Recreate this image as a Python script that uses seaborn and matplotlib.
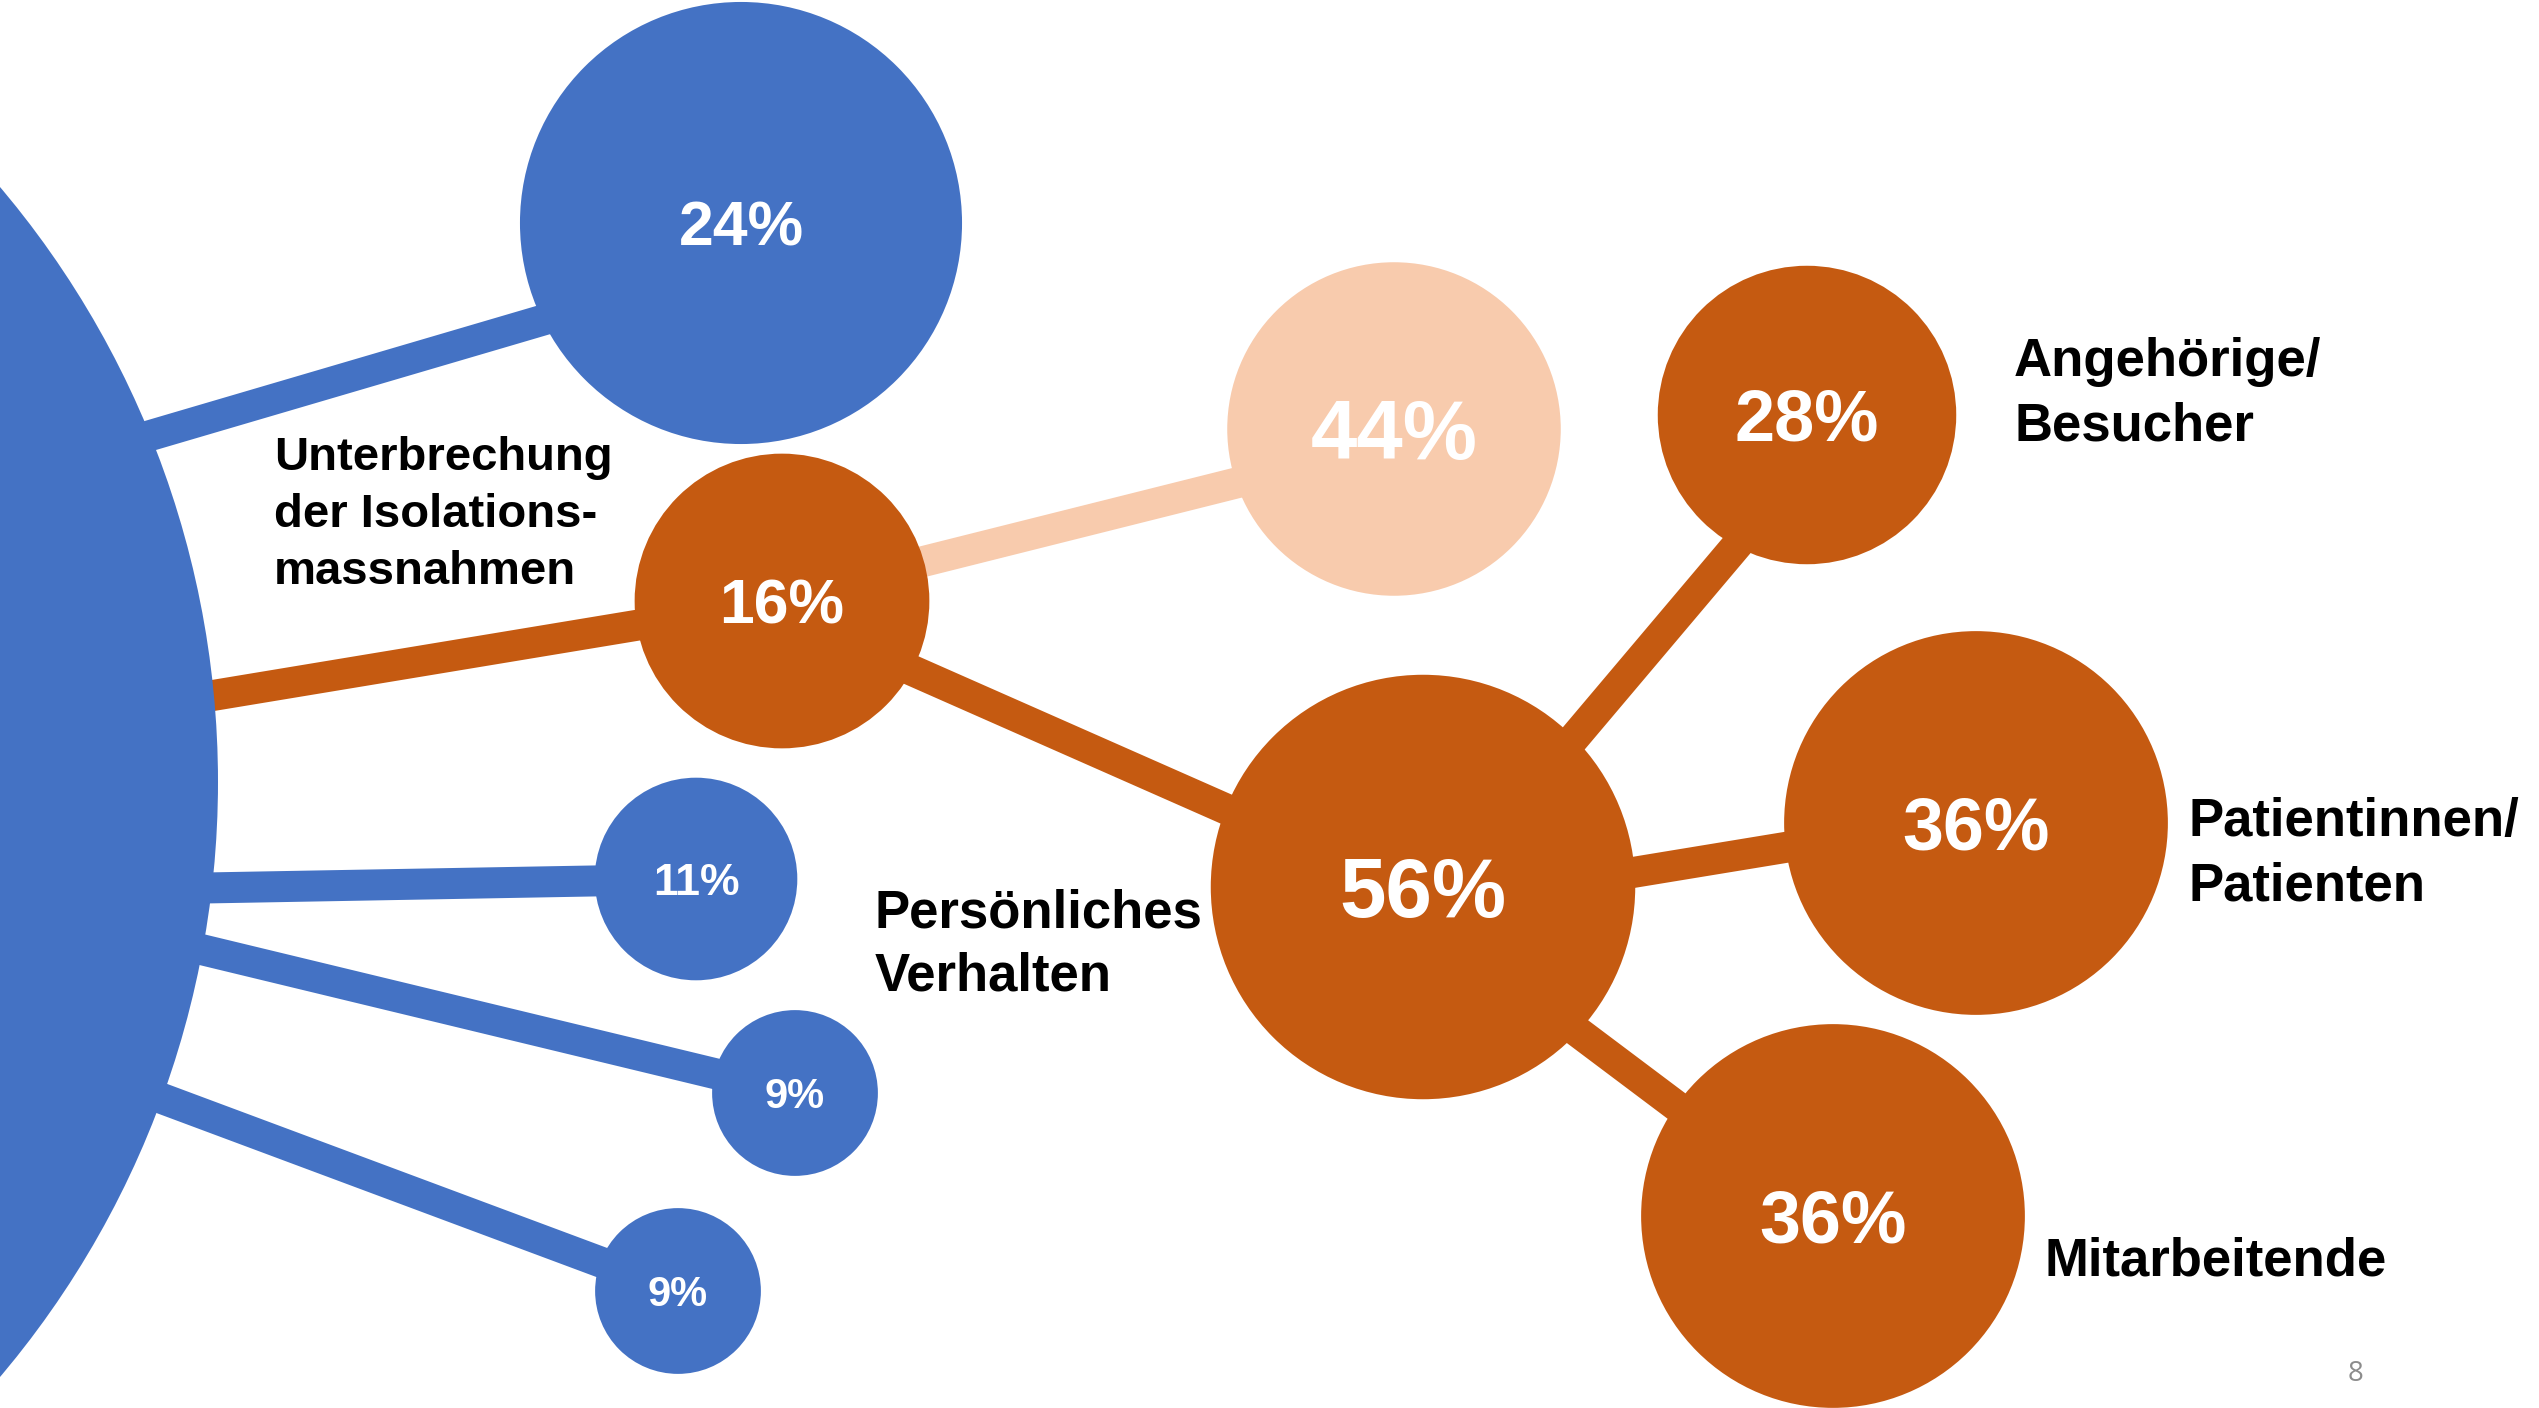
import matplotlib
matplotlib.use("Agg")

import numpy as np
import pandas as pd
import matplotlib.pyplot as plt
import seaborn as sns

# -----------------------------
# Data
# -----------------------------

# level 1: shares hanging off the big base circle (= 100 %)
level1_nodes = ["isolation", "behaviour", "n11", "n9a", "n9b"]
level1_values = [24, 16, 11, 9, 9]

# level 2: split of the 16 %
level2_nodes = ["other", "personal"]
level2_values = [44, 56]

# level 3: split of "Persönliches Verhalten"
level3_nodes = ["relatives", "patients", "staff"]
level3_values = [28, 36, 36]
level3_labels = ["Angehörige/\nBesucher", "Patientinnen/\nPatienten", "Mitarbeitende"]

base_value = 100
level1_label = "Unterbrechung\nder Isolations-\nmassnahmen"
level2_label = "Persönliches\nVerhalten"
page_number = "8"

# -----------------------------
# Layout (pixel space of the slide)
# -----------------------------

W, H, DPI = 2539, 1408, 100
PT_PER_PX = 72 / DPI

BLUE = "#4472C4"
ORANGE = "#C55A11"
LIGHT = "#F8CBAD"

px_per_pct = {0: 9.21, 1: 9.21, 2: 3.79, 3: 5.33}

centers = {
    "base": (-703, 782),
    "isolation": (741, 223),
    "behaviour": (782, 601),
    "n11": (696, 879),
    "n9a": (795, 1093),
    "n9b": (678, 1291),
    "other": (1394, 429),
    "personal": (1423, 887),
    "relatives": (1807, 415),
    "patients": (1976, 823),
    "staff": (1833, 1216),
}

colors = {
    "base": BLUE, "isolation": BLUE, "n11": BLUE, "n9a": BLUE, "n9b": BLUE,
    "behaviour": ORANGE, "personal": ORANGE,
    "relatives": ORANGE, "patients": ORANGE, "staff": ORANGE,
    "other": LIGHT,
}

# font size (pt) of the number inside each bubble
pct_size = {
    "isolation": 45, "behaviour": 45, "n11": 32, "n9a": 30, "n9b": 30,
    "other": 60, "personal": 60, "relatives": 52, "patients": 53, "staff": 53,
}

# connectors: parent, child, angle on parent edge, angle on child edge (deg, y down)
links = [
    ("base", "isolation", -22.1, 153.9),
    ("base", "behaviour", -5.4, 170.5),
    ("base", "n11", 6.6, 178.9),
    ("base", "n9a", 10.5, 193.6),
    ("base", "n9b", 20.1, 200.5),
    ("behaviour", "other", -15.6, 161.1),
    ("behaviour", "personal", 28.1, 201.6),
    ("personal", "relatives", -44.6, 118.4),
    ("personal", "patients", -4.0, 172.7),
    ("personal", "staff", 43.1, 215.1),
]

# -----------------------------
# Node table
# -----------------------------

rows = [("base", base_value, 0)]
rows += [(n, v, 1) for n, v in zip(level1_nodes, level1_values)]
rows += [(n, v, 2) for n, v in zip(level2_nodes, level2_values)]
rows += [(n, v, 3) for n, v in zip(level3_nodes, level3_values)]

nodes = pd.DataFrame(rows, columns=["node", "value", "level"])
nodes["x"] = [centers[n][0] for n in nodes["node"]]
nodes["y"] = [centers[n][1] for n in nodes["node"]]
nodes["r"] = nodes["value"] * nodes["level"].map(px_per_pct)
nodes["s"] = (2 * nodes["r"] * PT_PER_PX) ** 2
radius = dict(zip(nodes["node"], nodes["r"]))


def edge_point(node, angle):
    cx, cy = centers[node]
    a = np.deg2rad(angle)
    return cx + radius[node] * np.cos(a), cy + radius[node] * np.sin(a)


# -----------------------------
# Plot
# -----------------------------

sns.set_theme(style="white")
plt.rcParams["font.family"] = ["Liberation Sans", "DejaVu Sans"]

fig = plt.figure(figsize=(W / DPI, H / DPI), dpi=DPI)
ax = fig.add_axes([0, 0, 1, 1])

for parent, child, a0, a1 in links:
    x0, y0 = edge_point(parent, a0)
    x1, y1 = edge_point(child, a1)
    # push the ends a bit into the bubbles so the caps are hidden
    d = np.hypot(x1 - x0, y1 - y0)
    ux, uy = (x1 - x0) / d, (y1 - y0) / d
    ax.plot(
        [x0 - 25 * ux, x1 + 25 * ux],
        [y0 - 25 * uy, y1 + 25 * uy],
        color=colors[child],
        linewidth=31 * PT_PER_PX,
        solid_capstyle="butt",
        zorder=1,
    )

sns.scatterplot(
    data=nodes,
    x="x",
    y="y",
    hue="node",
    palette=colors,
    size="node",
    sizes=dict(zip(nodes["node"], nodes["s"])),
    linewidth=0,
    legend=False,
    zorder=3,
    ax=ax,
)

# percentages inside the bubbles
for _, row in nodes[nodes["level"] > 0].iterrows():
    fs = pct_size[row["node"]]
    em = fs / PT_PER_PX
    ax.text(
        row["x"], row["y"] + 0.358 * em,
        f"{row['value']}%",
        ha="center", va="baseline",
        fontsize=fs, fontweight="bold", color="white",
        zorder=4,
    )

# category labels
ax.text(274, 436, level1_label, ha="left", va="top",
        fontsize=34, fontweight="bold", color="black", linespacing=1.38)
ax.text(875, 888, level2_label, ha="left", va="top",
        fontsize=38, fontweight="bold", color="black", linespacing=1.35)

label_pos = [(2014, 337), (2188, 797), (2045, 1236)]
for (lx, ly), lab in zip(label_pos, level3_labels):
    ax.text(lx, ly, lab, ha="left", va="top",
            fontsize=38, fontweight="bold", color="black", linespacing=1.37)

ax.text(2356, 1374, page_number, ha="center", va="center",
        fontsize=20, color="#8C8C8C", family=["Open Sans", "DejaVu Sans"])

ax.set_xlim(0, W)
ax.set_ylim(H, 0)
ax.set_axis_off()

fig.savefig("out.png", dpi=DPI, facecolor="white")
plt.close(fig)
